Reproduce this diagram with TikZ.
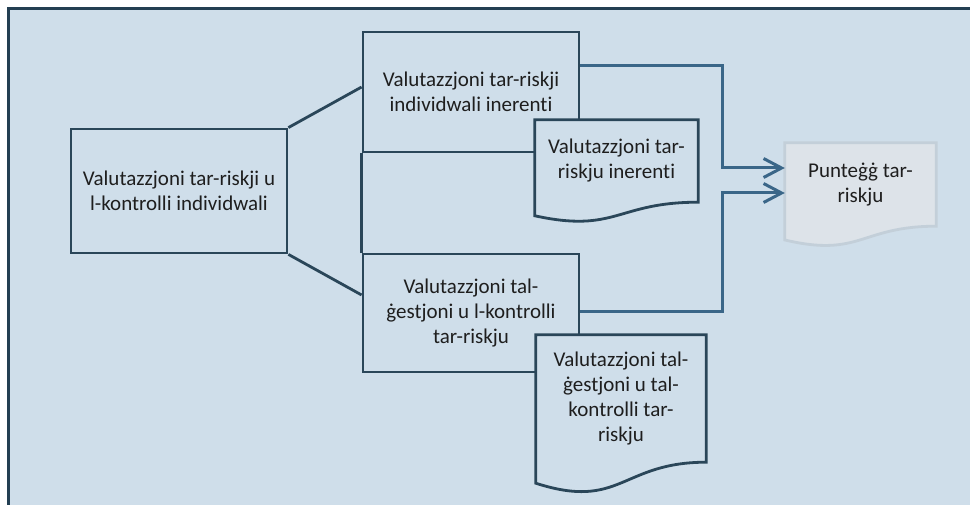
\documentclass[tikz,border=0pt]{standalone}
\usepackage{fontspec}
\setmainfont{Carlito}[Ligatures=NoCommon]
\usetikzlibrary{arrows.meta, calc}

\definecolor{bgblue}{HTML}{CFDEEA}
\definecolor{frameline}{HTML}{233F52}
\definecolor{boxline}{HTML}{2A4659}
\definecolor{flowblue}{HTML}{3A6688}
\definecolor{scorefill}{HTML}{DDE3E9}
\definecolor{scoreedge}{HTML}{C3CFD9}
\definecolor{txt}{HTML}{1E1E1E}

\pgfdeclarelayer{back}
\pgfdeclarelayer{docs}
\pgfsetlayers{back,docs,main}

% outline of a document shape round a named node
\newcommand{\docoutline}[2]{%
  \draw[#2] (#1.north west) -- (#1.north east) -- (#1.south east)
    .. controls (#1.south) and ($(#1.south)!-0.38!(#1.north)$)
    .. ($(#1.south west)!-0.165!(#1.north west)$) -- cycle;}

\begin{document}
\begin{tikzpicture}[
        x=1pt, y=-1pt,
        >={Straight Barb[length=18pt,width=19pt]},
        font=\fontsize{21}{25}\selectfont,
        box/.style={draw=boxline, line width=2.8pt, fill=bgblue, text=txt, align=center, inner sep=0pt, minimum width=216pt},
        doc/.style={text=txt, align=center, inner sep=0pt},
        docline/.style={draw=boxline, line width=2.8pt, fill=bgblue},
        scoreline/.style={draw=scoreedge, line width=2.8pt, fill=scorefill},
        link/.style={draw=boxline, line width=2.8pt},
        flow/.style={draw=flowblue, line width=3pt, ->}
    ]
\useasboundingbox (0,0) rectangle (970,505);

\begin{pgfonlayer}{back}
    \begin{scope}
        \clip (0,0) rectangle (970,505);
        \draw[draw=frameline, fill=bgblue, line width=3pt] (8,9) rectangle (990,525);
    \end{scope}
    \node[box, minimum height=124pt] (indiv) at (179,191) {Valutazzjoni tar-riskji u\\l-kontrolli individwali};
    \node[box, minimum height=120pt] (inherent) at (471,92) {Valutazzjoni tar-riskji\\individwali inerenti};
    \node[box, minimum height=118pt] (mgmt) at (471,313) {Valutazzjoni tal-\\ġestjoni u l-kontrolli\\tar-riskju};
    \draw[link] (indiv.north east) -- ([yshift=5pt]inherent.west);
    \draw[link] (indiv.south east) -- ([yshift=18pt]mgmt.west);
    \draw[link] (inherent.south west) -- (mgmt.north west);
\end{pgfonlayer}

\node[doc, minimum width=163pt, minimum height=82pt] (inhdoc) at (616.5,161) {Valutazzjoni tar-\\riskju inerenti};
\node[doc, minimum width=170pt, minimum height=127pt] (mgmtdoc) at (621,398.5) {Valutazzjoni tal-\\ġestjoni u tal-\\kontrolli tar-\\riskju};
\node[doc, minimum width=151pt, minimum height=83pt] (score) at (860.5,184.5) {Punteġġ tar-\\riskju};

\begin{pgfonlayer}{docs}
    \docoutline{inhdoc}{docline}
    \docoutline{mgmtdoc}{docline}
    \docoutline{score}{scoreline}
    \draw[flow] ([yshift=26pt]inherent.east) -| ([xshift=-62pt,yshift=16.5pt]score.west) -- ([yshift=16.5pt]score.west);
    \draw[flow] ([yshift=1pt]mgmt.east) -| ([xshift=-62pt,yshift=-8.5pt]score.west) -- ([yshift=-8.5pt]score.west);
\end{pgfonlayer}
\end{tikzpicture}
\end{document}
